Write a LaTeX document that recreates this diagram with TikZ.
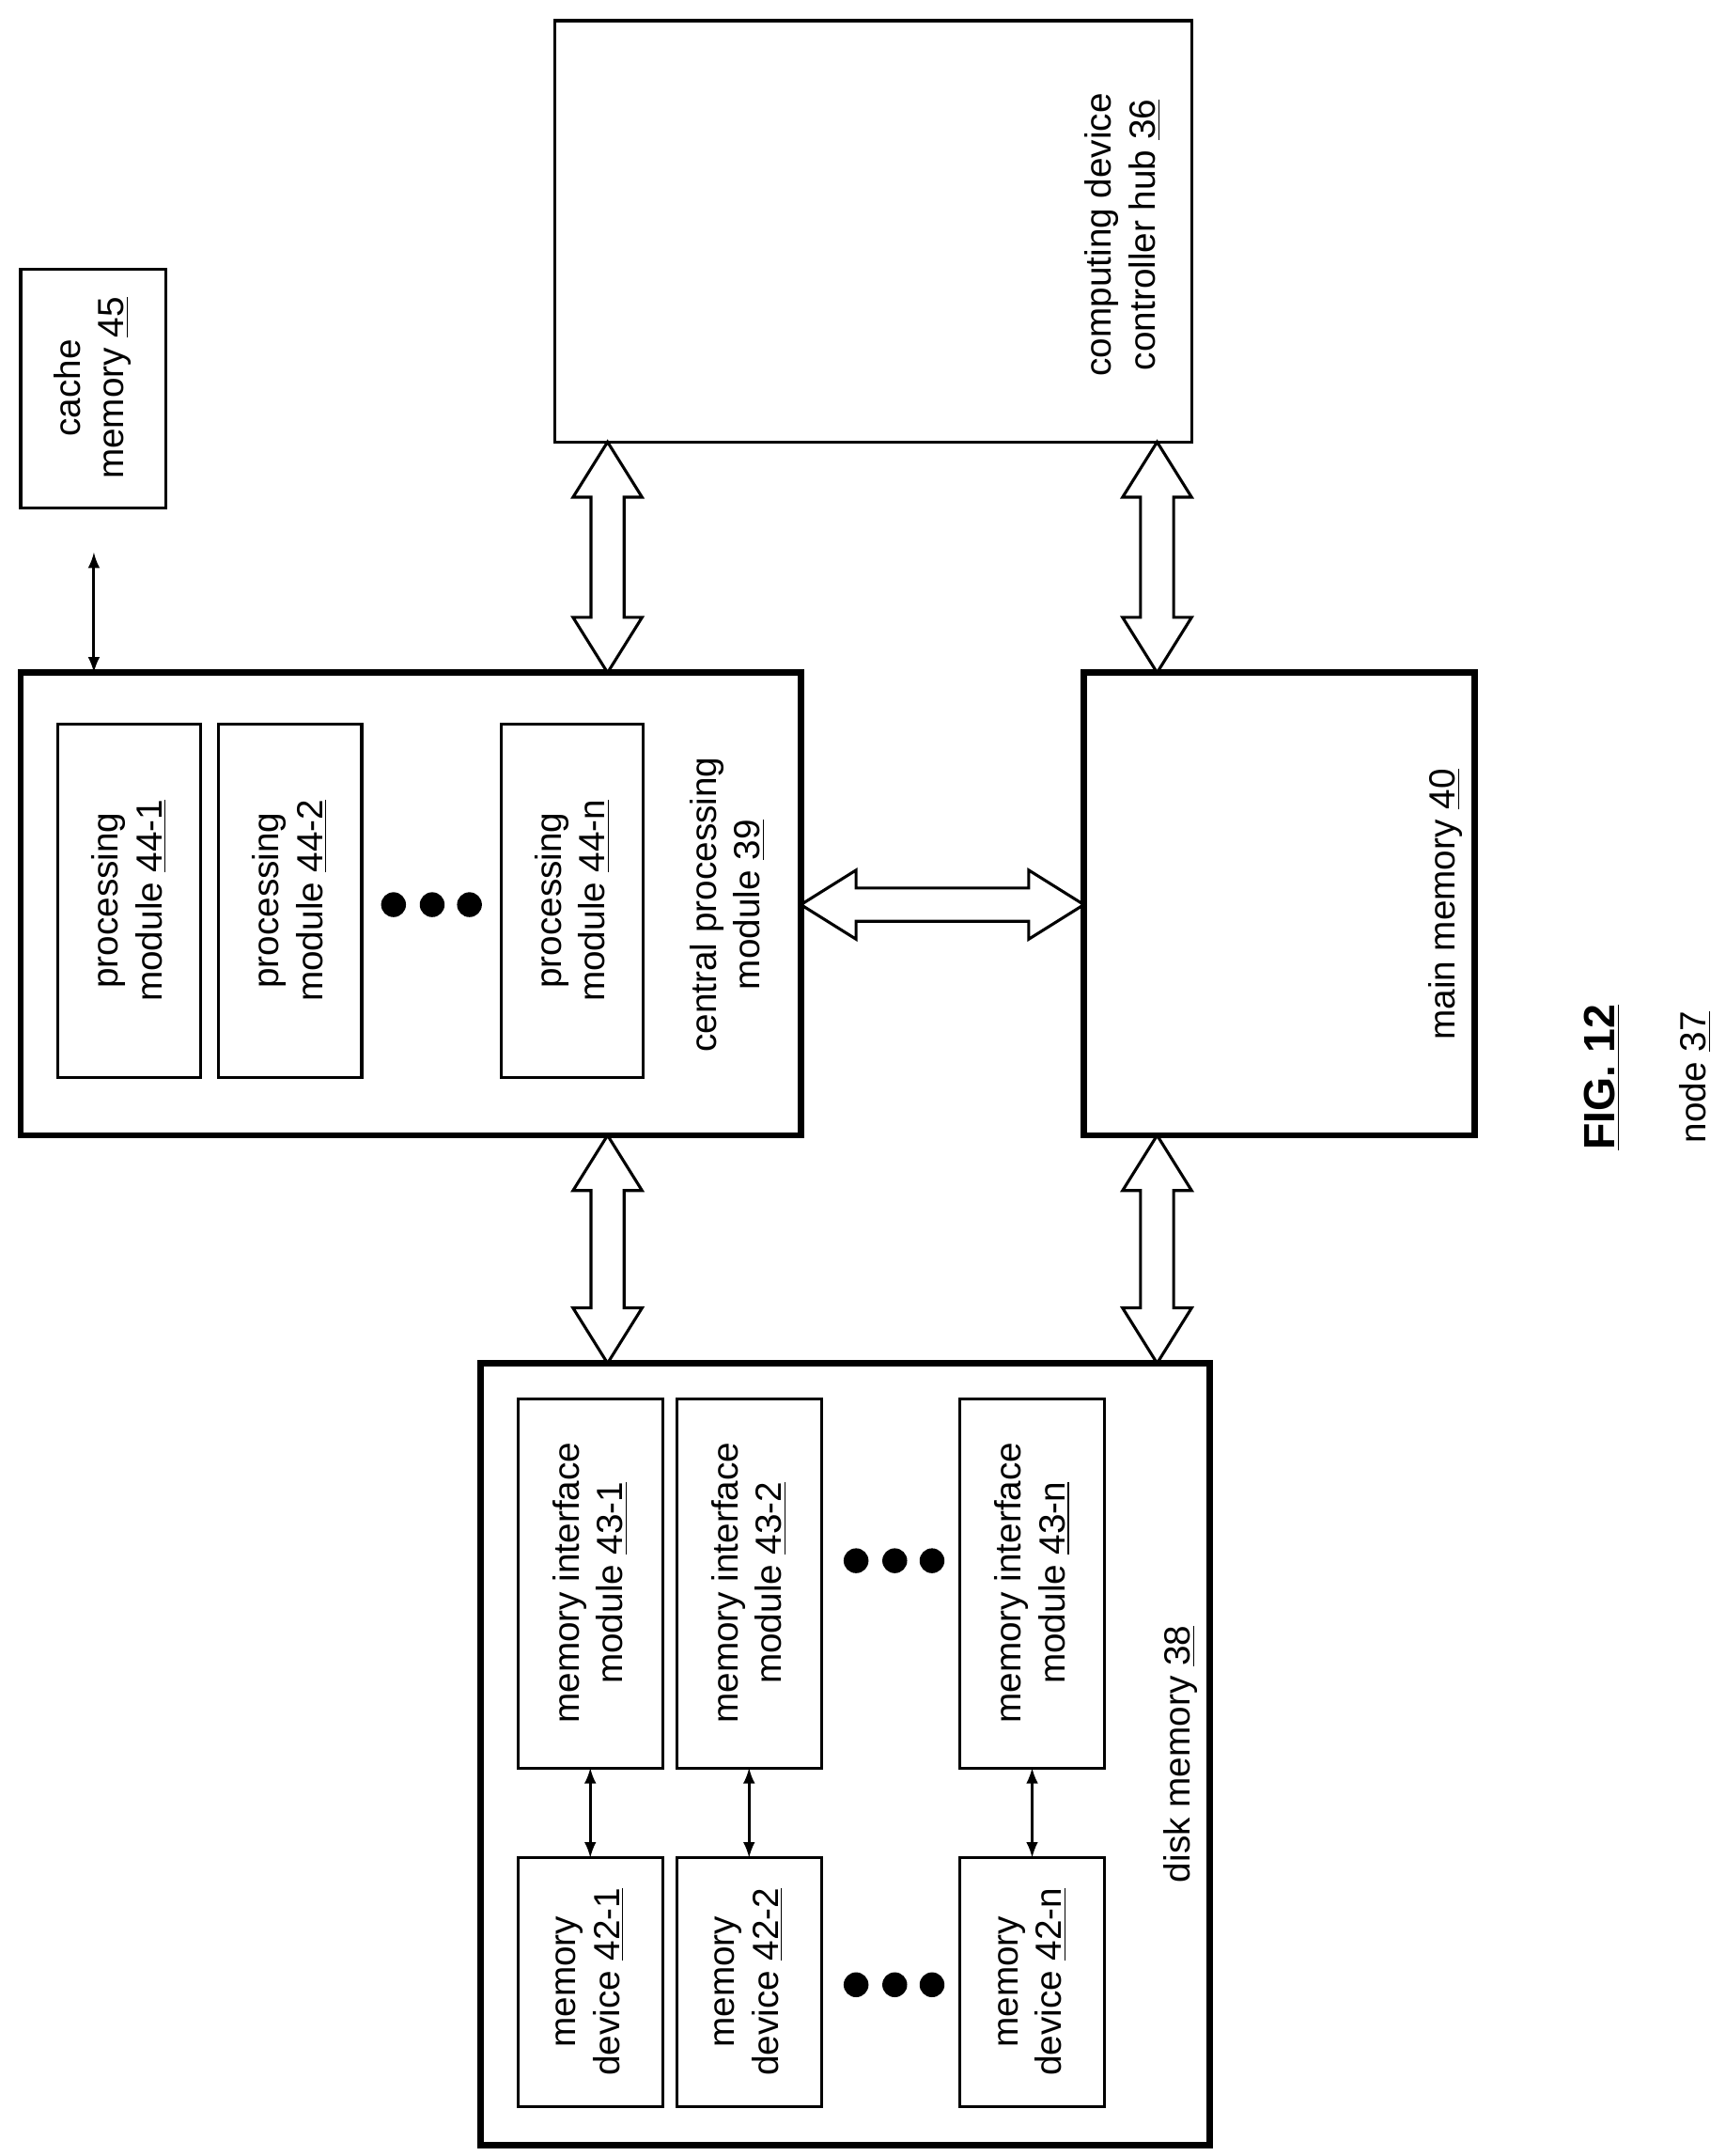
\documentclass[tikz,border=0pt]{standalone}
\usepackage{fontspec}
\setmainfont{Liberation Sans}
\begin{document}
\begin{tikzpicture}[x=0.02cm,y=-0.02cm,
 thin box/.style={draw,line width=1.2pt},
 thick box/.style={draw,line width=2.6pt},
 lbl/.style={rotate=90,align=center,font=\fontsize{15}{18}\selectfont},
 dot/.style={fill,circle,inner sep=0pt,minimum size=0.36cm},
 sa/.style={<->,>=latex,line width=1.2pt}]
\useasboundingbox (0,0) rectangle (1250,1561);
\newcommand\bav[3]{% x, y1, y2
 \draw[line width=1.2pt,fill=white] (#1,#2) -- (#1+25,#2+40) -- (#1+12,#2+40) -- (#1+12,#3-40) -- (#1+25,#3-40) -- (#1,#3) -- (#1-25,#3-40) -- (#1-12,#3-40) -- (#1-12,#2+40) -- (#1-25,#2+40) -- cycle;}
\newcommand\bah[3]{% y, x1, x2
 \draw[line width=1.2pt,fill=white] (#2,#1) -- (#2+40,#1-25) -- (#2+40,#1-12) -- (#3-40,#1-12) -- (#3-40,#1-25) -- (#3,#1) -- (#3-40,#1+25) -- (#3-40,#1+12) -- (#2+40,#1+12) -- (#2+40,#1+25) -- cycle;}
% boxes
\draw[thin box] (15,195) rectangle (120,368);
\node[lbl] (cache) at (67,281) {cache\\memory \underline{45}};
\draw[thin box] (402,15) rectangle (863,320);
\node[lbl] (hub) at (813,170) {computing device\\controller hub \underline{36}};
\draw[thick box] (15,487) rectangle (580,822);
\node[lbl] (cpu) at (527,655) {central processing\\module \underline{39}};
\draw[thick box] (785,487) rectangle (1068,822);
\node[lbl] (mm) at (1047,655) {main memory \underline{40}};
\draw[thick box] (348,987) rectangle (876,1553);
\node[lbl] (disk) at (855,1270) {disk memory \underline{38}};
% processing modules
\foreach \a/\b/\t in {42/145/44-1,158/262/44-2,363/466/44-n}{
 \draw[thin box] (\a,524) rectangle (\b,780);
 \node[lbl] at ({(\a+\b)/2},652) {processing\\module \underline{\t}};}
\foreach \x in {285,313,340} \node[dot] at (\x,655) {};
% memory interface & devices
\foreach \a/\b/\t in {375/480/1,490/595/2,695/800/n}{
 \draw[thin box] (\a,1013) rectangle (\b,1280);
 \node[lbl] at ({(\a+\b)/2},1146) {memory interface\\module \underline{43-\t}};
 \draw[thin box] (\a,1345) rectangle (\b,1525);
 \node[lbl] at ({(\a+\b)/2},1435) {memory\\device \underline{42-\t}};
 \draw[sa] ({(\a+\b)/2},1280) -- ({(\a+\b)/2},1345);}
\foreach \x in {620,648,675} {\node[dot] at (\x,1130) {}; \node[dot] at (\x,1437) {};}
% connectors
\draw[sa] (68,400) -- (68,487);
\bav{440}{320}{487}
\bav{838}{320}{487}
\bav{440}{822}{987}
\bav{838}{822}{987}
\bah{655}{580}{785}
\node[rotate=90,font=\fontsize{18}{20}\selectfont\bfseries] (fig) at (1160,780) {\underline{FIG. 12}};
\node[rotate=90,font=\fontsize{15}{18}\selectfont] (nd) at (1228,780) {node \underline{37}};
\end{tikzpicture}
\end{document}
